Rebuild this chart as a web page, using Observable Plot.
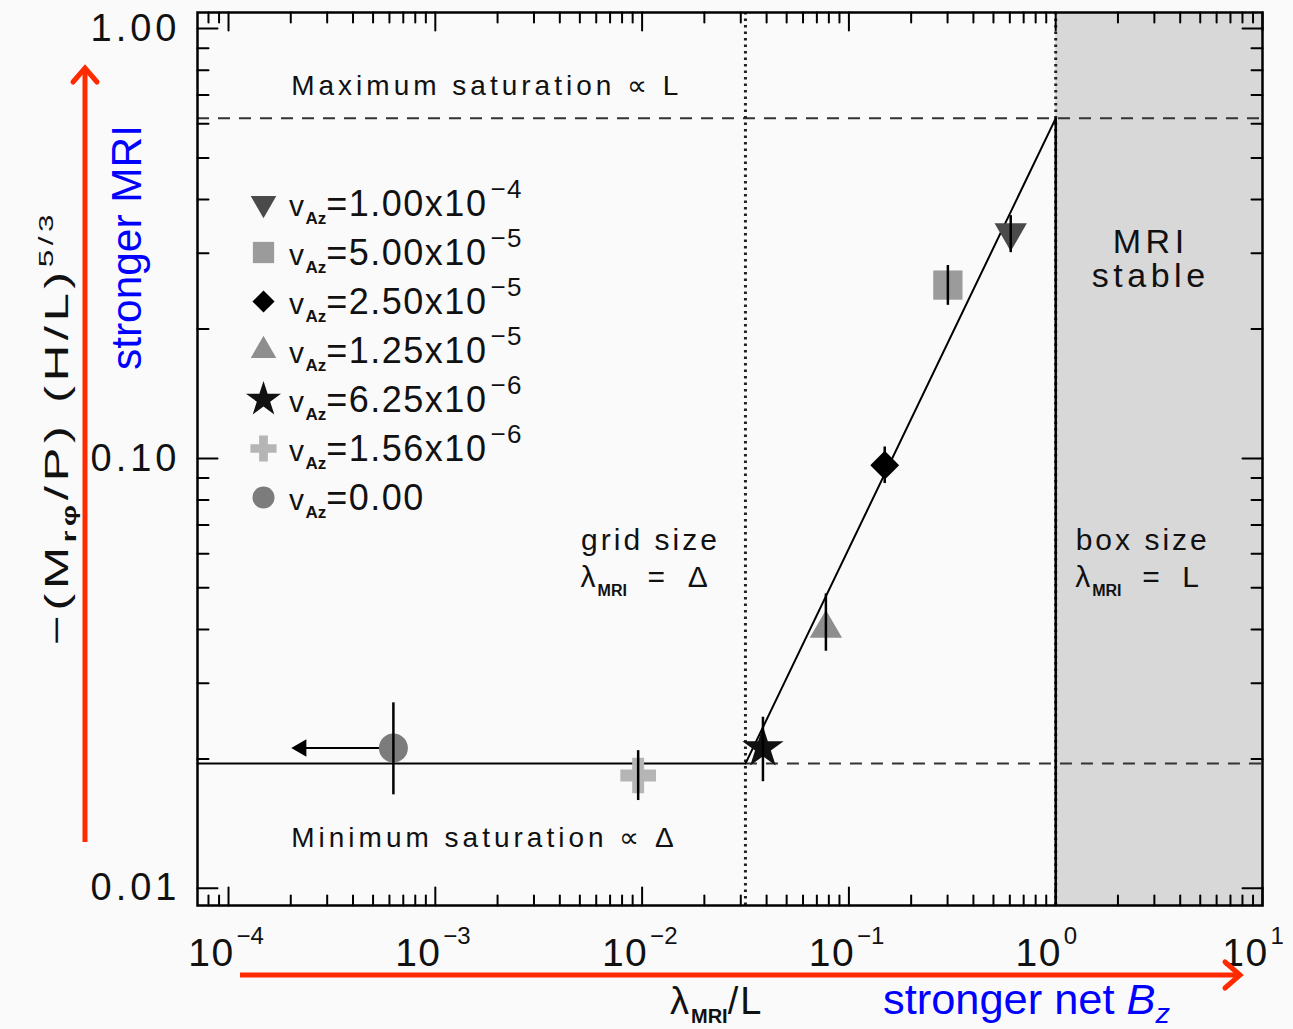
<!DOCTYPE html>
<html>
<head>
<meta charset="utf-8">
<script src="https://cdn.jsdelivr.net/npm/d3@7"></script>
<script src="https://cdn.jsdelivr.net/npm/@observablehq/plot@0.6"></script>
<style>
  html, body { margin: 0; padding: 0; background: #fafafa; }
  #chart svg { display: block; }
</style>
</head>
<body>
<div id="chart"></div>
<script>
// ---------------- data ----------------
const vAzMantissa = ["1.00", "5.00", "2.50", "1.25", "6.25", "1.56", "0.00"];
const vAzExponent = ["−4", "−5", "−5", "−5", "−6", "−6", ""];
const lambdaMRI = [0.606, 0.301, 0.149, 0.0774, 0.0384, 0.00957, 0.000627];
const stress    = [0.335, 0.253, 0.0964, 0.0402, 0.0212, 0.0183, 0.0212];
const stressLo  = [0.301, 0.227, 0.0874, 0.0356, 0.0177, 0.0160, 0.0165];
const stressHi  = [0.367, 0.281, 0.1063, 0.0484, 0.0250, 0.0209, 0.0270];
const upperLimitTo = 2.25e-4;          // arrow of the vAz = 0 run
const satMax = 0.618;                  // maximum saturation  ∝ L
const satMin = 0.0195;                 // minimum saturation  ∝ Δ
const lambdaGrid = 0.0316;             // λ_MRI = Δ
const lambdaBox = 1;                   // λ_MRI = L
const xMajor = [1e-4, 1e-3, 1e-2, 1e-1, 1, 10];
const xExponent = ["−4", "−3", "−2", "−1", "0", "1"];
const yMajor = [0.01, 0.1, 1];
const yTickLabels = ["0.01", "0.10", "1.00"];

// ---------------- layout / style ----------------
const W = 1293, H = 1029;
const IDL = "'Liberation Sans', Arial, sans-serif";
const NARROW = "'Liberation Sans Narrow', 'Liberation Sans', Arial, sans-serif";
const xDomain = [Math.pow(10, -4.15), 10];
const yDomain = [Math.pow(10, -2.04), Math.pow(10, 0.0372)];

const points = lambdaMRI.map((x, i) => ({x, y: stress[i], lo: stressLo[i], hi: stressHi[i]}));
const fit = [
  {x: xDomain[0], y: satMin},
  {x: lambdaGrid, y: satMin},
  {x: lambdaBox, y: satMax}
];

const symbolStyle = [
  {symbol: "triangle", rotate: 180, fill: "#4a4a4a", r: 12,   lr: 9.5},
  {symbol: "square",   rotate: 0,   fill: "#9b9b9b", r: 16.5, lr: 12},
  {symbol: "diamond2", rotate: 0,   fill: "#000000", r: 13,   lr: 10},
  {symbol: "triangle", rotate: 0,   fill: "#8e8e8e", r: 12,   lr: 9.5},
  {symbol: "star",     rotate: 0,   fill: "#111111", r: 13,   lr: 11},
  {symbol: "cross",    rotate: 0,   fill: "#b5b5b5", r: 15,   lr: 11},
  {symbol: "circle",   rotate: 0,   fill: "#7c7c7c", r: 14.5, lr: 11}
];

const minorX = [], minorY = [];
for (let e = -5; e <= 0; e++) for (let k = 2; k <= 9; k++) {
  const v = k * Math.pow(10, e);
  if (v > xDomain[0] && v < xDomain[1]) minorX.push(v);
}
for (let e = -3; e <= 0; e++) for (let k = 2; k <= 9; k++) {
  const v = k * Math.pow(10, e);
  if (v > yDomain[0] && v < yDomain[1]) minorY.push(v);
}

const tickShape = {draw(context, l) { context.moveTo(0, 0); context.lineTo(0, -l); }};
function ticks(values, axis, side, len) {
  const o = {length: len, anchor: "start", shape: tickShape, stroke: "#000", strokeWidth: 2};
  if (axis === "x") return Plot.vector(values, {...o, x: d => d, y: side === "bottom" ? yDomain[0] : yDomain[1], rotate: side === "bottom" ? 0 : 180});
  return Plot.vector(values, {...o, y: d => d, x: side === "left" ? xDomain[0] : xDomain[1], rotate: side === "left" ? 90 : -90});
}

const chart = Plot.plot({
  width: W, height: H,
  marginLeft: 197, marginRight: 31, marginTop: 12, marginBottom: 124,
  x: {type: "log", domain: xDomain, axis: null},
  y: {type: "log", domain: yDomain, axis: null},
  style: {background: "#fafafa", fontFamily: IDL, fontSize: "30px", color: "#111"},
  marks: [
    // MRI-stable region
    Plot.rect([0], {x1: lambdaBox, x2: xDomain[1], y1: yDomain[0], y2: yDomain[1], fill: "#d8d8d8"}),
    // saturation levels
    Plot.ruleY([satMax], {stroke: "#333", strokeWidth: 2, strokeDasharray: "12,9"}),
    Plot.ruleY([satMin], {x1: lambdaGrid, x2: xDomain[1], stroke: "#333", strokeWidth: 2, strokeDasharray: "12,9"}),
    // grid / box size
    Plot.ruleX([lambdaGrid, lambdaBox], {stroke: "#222", strokeWidth: 3, strokeDasharray: "2.5,4"}),
    Plot.ruleX([lambdaBox], {y1: yDomain[0], y2: satMax, stroke: "#000", strokeWidth: 2.5}),
    // fit
    Plot.line(fit, {x: "x", y: "y", stroke: "#000", strokeWidth: 2}),
    // upper-limit arrow of vAz=0
    Plot.link([points[6]], {x1: "x", y1: "y", x2: upperLimitTo, y2: "y", stroke: "#000", strokeWidth: 2}),
    Plot.dot([points[6]], {x: upperLimitTo, y: "y", symbol: "triangle", rotate: -90, r: 6.5, fill: "#000"}),
    // data points
    ...symbolStyle.map((s, i) => Plot.dot([points[i]], {x: "x", y: "y", symbol: s.symbol, rotate: s.rotate, r: s.r, fill: s.fill, stroke: "none"})),
    Plot.ruleX(points, {x: "x", y1: "lo", y2: "hi", stroke: "#000", strokeWidth: 2.5}),
    // legend symbols
    ...symbolStyle.map((s, i) => Plot.dot([0], {frameAnchor: "top-left", dx: 66, dy: 191 + i * 49, symbol: s.symbol, rotate: s.rotate, r: s.lr, fill: s.fill})),
    // frame and ticks
    Plot.frame({stroke: "#000", strokeWidth: 2.5}),
    ticks(xMajor, "x", "bottom", 18), ticks(xMajor, "x", "top", 18),
    ticks(minorX, "x", "bottom", 10), ticks(minorX, "x", "top", 10),
    ticks(yMajor, "y", "left", 20), ticks(yMajor, "y", "right", 20),
    ticks(minorY, "y", "left", 11), ticks(minorY, "y", "right", 11),
    // y tick labels
    Plot.axisY(yMajor, {anchor: "left", tickSize: 0, tickPadding: 17, tickFormat: d => yTickLabels[yMajor.indexOf(d)], fontSize: 38, label: null}),
    // x tick labels
    Plot.text(xMajor, {x: d => d, text: () => "10", frameAnchor: "bottom", lineAnchor: "bottom", dy: 60, dx: -17, fontSize: 39}),
    Plot.text(xMajor, {x: d => d, text: d => xExponent[xMajor.indexOf(d)], frameAnchor: "bottom", lineAnchor: "bottom", dy: 38, dx: 8, textAnchor: "start", fontSize: 24}),
    // annotations
    Plot.text(["Maximum saturation ∝ L"], {x: 2.01e-4, y: 0.699, textAnchor: "start", lineAnchor: "bottom", fontSize: 28}),
    Plot.text(["Minimum saturation ∝ Δ"], {x: 2.01e-4, y: 0.01246, textAnchor: "start", lineAnchor: "bottom", fontSize: 28}),
    Plot.text(["MRI\nstable"], {x: 2.88, y: 0.250, textAnchor: "middle", lineAnchor: "bottom", lineHeight: 1.02, fontSize: 34}),
    Plot.text(["grid size"], {x: 5.07e-3, y: 0.0613, textAnchor: "start", lineAnchor: "bottom", fontSize: 30}),
    Plot.text(["box size"], {x: 1.249, y: 0.0613, textAnchor: "start", lineAnchor: "bottom", fontSize: 30})
  ]
});

document.getElementById("chart").append(chart);
const svg = d3.select(chart);
// IDL-like wide letter spacing for the plain texts drawn by Plot
const spacing = [
  [t => /saturation/.test(t), 4],
  [t => /stable/.test(t), 4.5],
  [t => /size/.test(t), 3],
  [t => /^\d\.\d\d$/.test(t), 4],
  [t => t === "10", 1.5]
];
svg.selectAll("text").each(function () {
  const txt = this.textContent;
  for (const [test, ls] of spacing) if (test(txt)) { this.setAttribute("letter-spacing", ls); break; }
});

const xs = chart.scale("x"), ys = chart.scale("y");
const ov = svg.append("g").attr("class", "overlay");

function rich(g, x, y, parts, {anchor = "start", size = 30, fill = "#111", rotate = 0, family = IDL, ls = 0, textLength = null} = {}) {
  const t = g.append("text").attr("x", x).attr("y", y).attr("text-anchor", anchor)
    .attr("font-family", family).attr("font-size", size).attr("fill", fill).attr("letter-spacing", ls);
  if (rotate) t.attr("transform", `rotate(${rotate},${x},${y})`);
  if (textLength) t.attr("textLength", textLength).attr("lengthAdjust", "spacingAndGlyphs");
  let cur = 0;
  for (const p of parts) {
    const s = p.shift || 0;
    const ts = t.append("tspan").text(p.t).attr("dy", s - cur);
    cur = s;
    if (p.size) ts.attr("font-size", p.size);
    if (p.style) ts.attr("font-style", p.style);
    if (p.weight) ts.attr("font-weight", p.weight);
    if (p.dx) ts.attr("dx", p.dx);
    if (p.ls !== undefined) ts.attr("letter-spacing", p.ls);
  }
  return t;
}

// legend labels
vAzMantissa.forEach((m, i) => {
  const yb = 12 + 191 + i * 49 + 13;
  const parts = [
    {t: "v", size: 30},
    {t: "Az", size: 17, shift: 8, weight: "bold", ls: 0},
    {t: "=" + m + (vAzExponent[i] ? "x10" : ""), size: 36, shift: 0}
  ];
  if (vAzExponent[i]) parts.push({t: vAzExponent[i], size: 26, shift: -18, dx: 3});
  rich(ov, 289, yb, parts, {ls: 1.5});
});

// λ_MRI annotations
[[5.07e-3, "Δ"], [1.249, "L"]].forEach(([xv, sym]) => {
  rich(ov, xs.apply(xv), 587, [
    {t: "λ", size: 30},
    {t: "MRI", size: 16, shift: 9, weight: "bold", ls: 0},
    {t: "  =  " + sym, size: 30, shift: 0}
  ], {ls: 2});
});

// axis titles
rich(ov, 670, 1014, [
  {t: "λ", size: 38},
  {t: "MRI", size: 20, shift: 9, weight: "bold", ls: 0},
  {t: "/L", size: 38, shift: 0}
], {ls: 2});

rich(ov, 68, 645, [
  {t: "−(M", size: 34},
  {t: "rφ", size: 20, shift: 8, weight: "bold"},
  {t: "/P) (H/L)", size: 34, shift: 0},
  {t: "5/3", size: 21, shift: -15}
], {rotate: -90, ls: 3, textLength: 435});

// red arrows
const RED = "#ff2a00";
ov.append("line").attr("x1", 85).attr("y1", 842).attr("x2", 85).attr("y2", 70).attr("stroke", RED).attr("stroke-width", 5);
ov.append("polyline").attr("points", "73,82 85,68 97,82").attr("fill", "none").attr("stroke", RED).attr("stroke-width", 5).attr("stroke-linecap", "round");
ov.append("line").attr("x1", 240).attr("y1", 975).attr("x2", 1238).attr("y2", 975).attr("stroke", RED).attr("stroke-width", 5);
ov.append("polyline").attr("points", "1225,962 1240,975 1225,988").attr("fill", "none").attr("stroke", RED).attr("stroke-width", 5).attr("stroke-linecap", "round");

// blue annotations
rich(ov, 141, 370, [{t: "stronger MRI"}], {rotate: -90, size: 42, fill: "#0000ff", family: NARROW, textLength: 245});
rich(ov, 883, 1014, [
  {t: "stronger net "},
  {t: "B", style: "italic"},
  {t: "z", style: "italic", size: 28, shift: 9}
], {size: 42, fill: "#0000ff", family: NARROW, textLength: 287});
</script>
</body>
</html>
